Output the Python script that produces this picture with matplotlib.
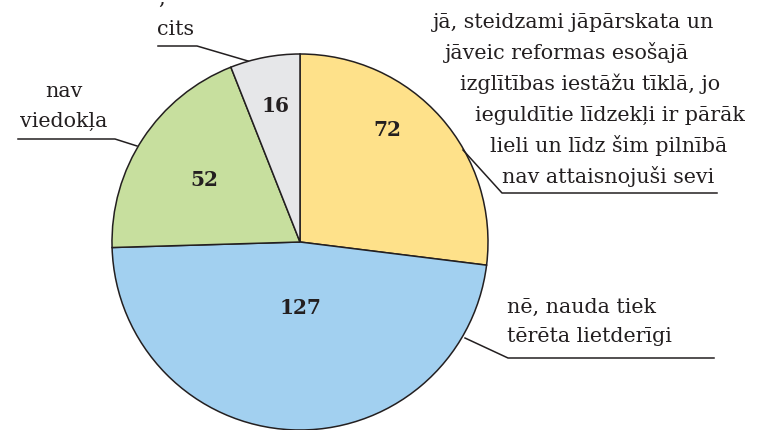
import matplotlib
matplotlib.use("Agg")
import matplotlib.pyplot as plt

# ---- data ----
categories = [
    "jā, steidzami jāpārskata un jāveic reformas esošajā izglītības iestāžu tīklā, jo ieguldītie līdzekļi ir pārāk lieli un līdz šim pilnībā nav attaisnojuši sevi",
    "nē, nauda tiek tērēta lietderīgi",
    "nav viedokļa",
    "cits",
]
values = [72, 127, 52, 16]
colors = ["#FEE18A", "#A2D0F0", "#C7DF9E", "#E6E7E9"]

W, H = 772, 430
fig = plt.figure(figsize=(W / 100, H / 100), dpi=100)
ax = fig.add_axes([0, 0, 1, 1])

def Y(ypx):
    return H - ypx

cx, cy, R = 300, 242, 188
ax.pie(values, colors=colors, startangle=90, counterclock=False,
       center=(cx, Y(cy)), radius=R, frame=True,
       wedgeprops=dict(edgecolor="#231F20", linewidth=1.1))
ax.set_xlim(0, W)
ax.set_ylim(0, H)
ax.set_aspect("auto")
ax.axis("off")

txt = "#231F20"
fam = ["DejaVu Serif"]
fs = 14.9

# value labels (pixel positions)
num_pos = [(387, 130), (300, 308), (204, 180), (276, 106)]
for v, (x, y) in zip(values, num_pos):
    ax.text(x, Y(y), str(v), ha="center", va="center", fontsize=14.5,
            fontweight="bold", family=fam, color=txt)

# yellow label lines, staircase
yl_lines = ["jā, steidzami jāpārskata un", "jāveic reformas esošajā",
            "izglītības iestāžu tīklā, jo", "ieguldītie līdzekļi ir pārāk",
            "lieli un līdz šim pilnībā", "nav attaisnojuši sevi"]
yl_x = [433, 445, 460, 475, 490, 502]
for i, (s, x) in enumerate(zip(yl_lines, yl_x)):
    ax.text(x, Y(28 + 31 * i), s, ha="left", va="baseline", fontsize=fs,
            family=fam, color=txt)
ax.plot([463, 502, 717], [Y(150), Y(193), Y(193)], color=txt, lw=1.1)

# blue label
for i, s in enumerate(["nē, nauda tiek", "tērēta lietderīgi"]):
    ax.text(507, Y(313 + 29 * i), s, ha="left", va="baseline", fontsize=fs,
            family=fam, color=txt)
ax.plot([465, 508, 714], [Y(338), Y(358), Y(358)], color=txt, lw=1.1)

# green label
for i, s in enumerate(["nav", "viedokļa"]):
    ax.text(64, Y(97 + 30 * i), s, ha="center", va="baseline", fontsize=fs,
            family=fam, color=txt)
ax.plot([18, 115, 137], [Y(139), Y(139), Y(146)], color=txt, lw=1.1)

# gray label
ax.text(175, Y(35), "cits", ha="center", va="baseline", fontsize=fs,
        family=fam, color=txt)
ax.plot([158, 197, 248], [Y(46), Y(46), Y(61)], color=txt, lw=1.1)

# text fragment cut at the top edge (as in the reference)
ax.text(162, Y(3.5), ",", ha="center", va="baseline", fontsize=fs,
        family=fam, color=txt)

fig.savefig("out.png", dpi=100)
